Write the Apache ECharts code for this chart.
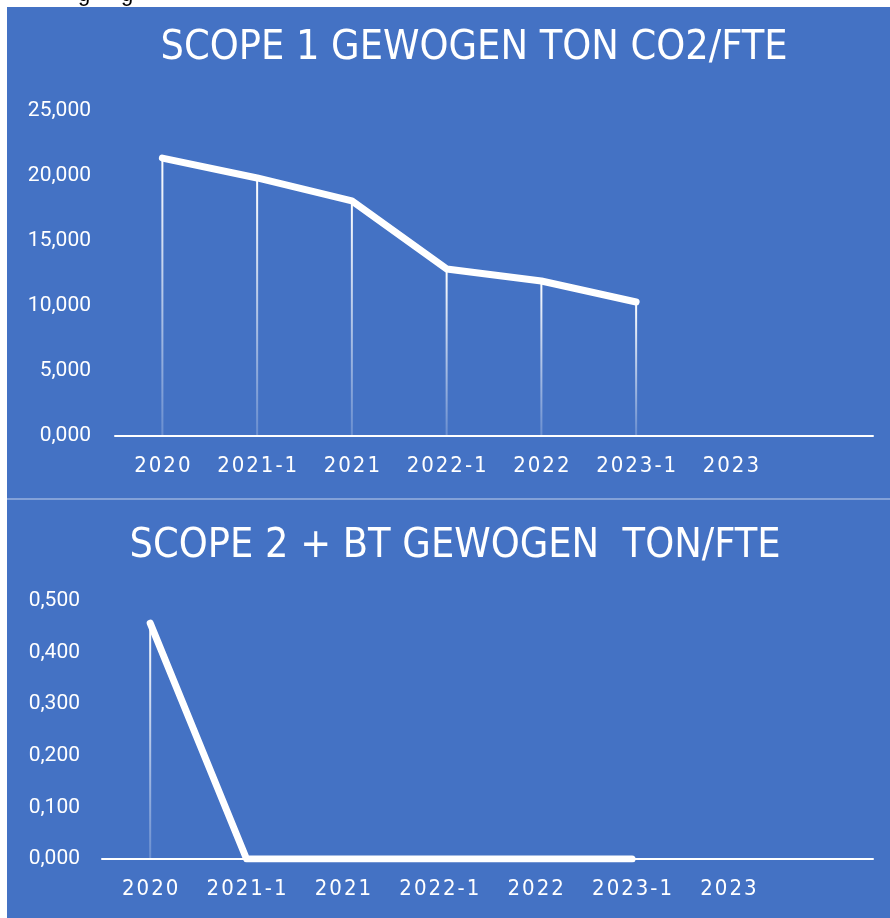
<!DOCTYPE html>
<html>
<head>
<meta charset="utf-8">
<script src="https://cdn.jsdelivr.net/npm/echarts@6/dist/echarts.min.js"></script>
<style>
    html, body { margin: 0; padding: 0; background: #ffffff; }
    #chartId { width: 890px; height: 918px; }
</style>
</head>
<body>
<div id="chartId"></div>
<script>
// categories (last one is an empty slot, as in the original sheet)
const categories = ['2020', '2021-1', '2021', '2022-1', '2022', '2023-1', '2023', ''];
// scope 1 gewogen ton CO2/FTE
const scope1 = [21.38, 19.85, 18.08, 12.85, 11.92, 10.31, null, null];
// scope 2 + BT gewogen ton/FTE
const scope2 = [0.457, 0, 0, 0, 0, 0, null, null];

const title1 = 'SCOPE 1 GEWOGEN TON CO2/FTE';
const title2 = 'SCOPE 2 + BT GEWOGEN  TON/FTE';

const blue = '#4472C4';
const narrow = "'Liberation Sans Narrow', 'DejaVu Sans Condensed', sans-serif";

// poor man's letter-spacing
function spaced(s) {
    return s.split('').join('\u200A');
}
function nlFormat(v) {
    return v.toFixed(3).replace('.', ',');
}

var chart = echarts.init(document.getElementById('chartId'));

var dropColor = new echarts.graphic.LinearGradient(0, 0, 0, 1, [
    { offset: 0, color: 'rgba(255,255,255,1)' },
    { offset: 1, color: 'rgba(255,255,255,0.2)' }
]);

function xAxisFor(idx) {
    return {
        type: 'category',
        gridIndex: idx,
        data: categories,
        axisLine: { lineStyle: { color: '#ffffff', width: 2 } },
        axisTick: { show: false },
        axisLabel: {
            color: '#ffffff',
            fontFamily: narrow,
            fontSize: 22,
            margin: 19,
            interval: 0,
            formatter: function (v) { return spaced(v); }
        }
    };
}
function yAxisFor(idx, max, interval, margin) {
    return {
        type: 'value',
        gridIndex: idx,
        min: 0,
        max: max,
        interval: interval,
        axisLine: { show: false },
        axisTick: { show: false },
        splitLine: { show: false },
        axisLabel: {
            color: '#ffffff',
            fontFamily: 'Roboto, sans-serif',
            fontSize: 21,
            margin: margin,
            formatter: nlFormat
        }
    };
}
function lineFor(idx, data) {
    return {
        type: 'line',
        xAxisIndex: idx,
        yAxisIndex: idx,
        data: data,
        symbol: 'none',
        lineStyle: { color: '#ffffff', width: 7, cap: 'round', join: 'round' },
        z: 5
    };
}
function dropFor(idx, data) {
    return {
        type: 'bar',
        xAxisIndex: idx,
        yAxisIndex: idx,
        data: data,
        barWidth: 2,
        itemStyle: { color: dropColor },
        z: 3
    };
}

var option = {
    backgroundColor: '#ffffff',
    animation: false,
    graphic: [
        { type: 'rect', shape: { x: 7, y: 7, width: 883, height: 911 }, style: { fill: blue }, z: -10 },
        { type: 'line', shape: { x1: 7, y1: 499, x2: 890, y2: 499 }, style: { stroke: 'rgba(255,255,255,0.45)', lineWidth: 1.5 }, z: -9 },
        // descenders of the text line above the picture
        { type: 'text', style: { text: 'g', x: 78, y: 6, fill: '#000000', font: '22px Liberation Sans', verticalAlign: 'bottom' }, z: -20 },
        { type: 'text', style: { text: 'g', x: 121, y: 6, fill: '#000000', font: '22px Liberation Sans', verticalAlign: 'bottom' }, z: -20 },
        { type: 'text', style: { text: title1, x: 474, y: 48, align: 'center', verticalAlign: 'middle', fill: '#ffffff', font: '41px ' + narrow } },
        { type: 'text', style: { text: title2, x: 455, y: 546, align: 'center', verticalAlign: 'middle', fill: '#ffffff', font: '41px ' + narrow } }
    ],
    grid: [
        { left: 115, right: 17, top: 111, height: 325 },
        { left: 102, right: 17, top: 601, height: 258 }
    ],
    xAxis: [xAxisFor(0), xAxisFor(1)],
    yAxis: [yAxisFor(0, 25, 5, 24), yAxisFor(1, 0.5, 0.1, 22)],
    series: [
        dropFor(0, scope1),
        lineFor(0, scope1),
        dropFor(1, scope2),
        lineFor(1, scope2)
    ]
};

chart.setOption(option);
</script>
</body>
</html>
